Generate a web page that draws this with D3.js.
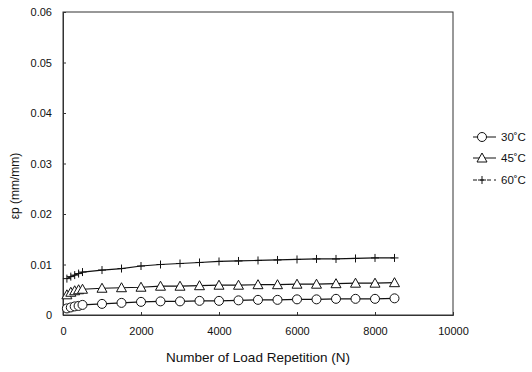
<!DOCTYPE html>
<html>
<head>
<meta charset="utf-8">
<script src="https://cdn.jsdelivr.net/npm/d3@7"></script>
<style>
  html, body { margin: 0; padding: 0; background: #fff; }
  svg { display: block; }
  text { font-family: "Liberation Sans", Arial, sans-serif; fill: #111; }
</style>
</head>
<body>
<svg id="chart" width="532" height="372"></svg>
<script>
// Load repetitions at which permanent strain was recorded
const repetitions = [100, 200, 300, 400, 500, 1000, 1500, 2000, 2500, 3000, 3500, 4000,
  4500, 5000, 5500, 6000, 6500, 7000, 7500, 8000, 8500];

// Permanent strain εp (mm/mm) per test temperature
const strain30 = [0.0013, 0.0015, 0.0017, 0.0018, 0.0020, 0.0022, 0.0024, 0.0026, 0.0027, 0.0027,
  0.0028, 0.0028, 0.0029, 0.0030, 0.0030, 0.0031, 0.0031, 0.0032, 0.0032, 0.0032, 0.0033];
const strain45 = [0.0040, 0.0045, 0.0048, 0.0050, 0.0051, 0.0053, 0.0054, 0.0055, 0.0057, 0.0057,
  0.0058, 0.0059, 0.0059, 0.0060, 0.0060, 0.0061, 0.0061, 0.0062, 0.0063, 0.0063, 0.0064];
const strain60 = [0.0072, 0.0076, 0.0079, 0.0082, 0.0085, 0.0089, 0.0092, 0.0097, 0.0100, 0.0102,
  0.0104, 0.0106, 0.0107, 0.0108, 0.0109, 0.0110, 0.0111, 0.0111, 0.0112, 0.0113, 0.0113];

const seriesNames = ["30˚C", "45˚C", "60˚C"];
const seriesMarkers = ["circle", "triangle", "plus"];

const xTicks = [0, 2000, 4000, 6000, 8000, 10000];
const yTicks = [0, 0.01, 0.02, 0.03, 0.04, 0.05, 0.06];

const svg = d3.select("#chart");
const margin = { left: 63, top: 12, right: 79, bottom: 57 };
const W = 532, H = 372;

const x = d3.scaleLinear().domain([0, 10000]).range([margin.left, W - margin.right]);
const y = d3.scaleLinear().domain([0, 0.06]).range([H - margin.bottom, margin.top]);

// Plot frame
svg.append("rect")
  .attr("x", x(0)).attr("y", y(0.06))
  .attr("width", x(10000) - x(0)).attr("height", y(0) - y(0.06))
  .attr("fill", "none").attr("stroke", "#333").attr("stroke-width", 1);

// Axes with short inward ticks
const xAxis = svg.append("g").attr("transform", `translate(0,${y(0)})`)
  .call(d3.axisBottom(x).tickValues(xTicks).tickSize(-3).tickPadding(12).tickFormat(d3.format("d")));
const yAxis = svg.append("g").attr("transform", `translate(${x(0)},0)`)
  .call(d3.axisLeft(y).tickValues(yTicks).tickSize(-3).tickPadding(11)
    .tickFormat(d => d === 0 ? "0" : d3.format(".2f")(d)));
[xAxis, yAxis].forEach(g => {
  g.select(".domain").attr("stroke", "#333");
  g.selectAll(".tick line").attr("stroke", "#333");
  g.selectAll(".tick text").attr("font-size", 11)
    .attr("font-family", "Liberation Sans, Arial, sans-serif").attr("fill", "#111");
});

// Axis titles
svg.append("text")
  .attr("x", x(5000)).attr("y", 362)
  .attr("text-anchor", "middle").attr("font-size", 13.5)
  .text("Number of Load Repetition (N)");
svg.append("text")
  .attr("transform", "translate(19,186) rotate(-90)")
  .attr("text-anchor", "middle").attr("font-size", 12)
  .text("εp (mm/mm)");

// Marker drawing helper
function drawMarker(g, type, cx, cy) {
  if (type === "circle") {
    g.append("circle").attr("cx", cx).attr("cy", cy).attr("r", 4.5)
      .attr("fill", "#fff").attr("stroke", "#111").attr("stroke-width", 1);
  } else if (type === "triangle") {
    const s = 5;
    g.append("path")
      .attr("d", `M${cx},${cy - s} L${cx + s},${cy + s * 0.8} L${cx - s},${cy + s * 0.8} Z`)
      .attr("fill", "#fff").attr("stroke", "#111").attr("stroke-width", 1);
  } else {
    const s = 4;
    g.append("path")
      .attr("d", `M${cx - s},${cy} H${cx + s} M${cx},${cy - s} V${cy + s}`)
      .attr("stroke", "#111").attr("stroke-width", 1).attr("fill", "none");
  }
}

const allSeries = [strain30, strain45, strain60];
const line = d3.line().x(d => x(d[0])).y(d => y(d[1]));

allSeries.forEach((vals, i) => {
  const pts = repetitions.map((n, k) => [n, vals[k]]);
  const g = svg.append("g");
  g.append("path").datum(pts).attr("d", line)
    .attr("fill", "none").attr("stroke", "#111").attr("stroke-width", 1.2);
  pts.forEach(p => drawMarker(g, seriesMarkers[i], x(p[0]), y(p[1])));
});

// Legend
const legendY = [137, 158, 180];
seriesNames.forEach((name, i) => {
  const g = svg.append("g");
  const ly = legendY[i];
  g.append("line").attr("x1", 473).attr("x2", 496).attr("y1", ly).attr("y2", ly)
    .attr("stroke", "#111").attr("stroke-width", 1)
    .attr("stroke-dasharray", i === 2 ? "4,3" : null);
  drawMarker(g, seriesMarkers[i], 482, ly);
  g.append("text").attr("x", 501).attr("y", ly + 4).attr("font-size", 11.5).text(name);
});
</script>
</body>
</html>
